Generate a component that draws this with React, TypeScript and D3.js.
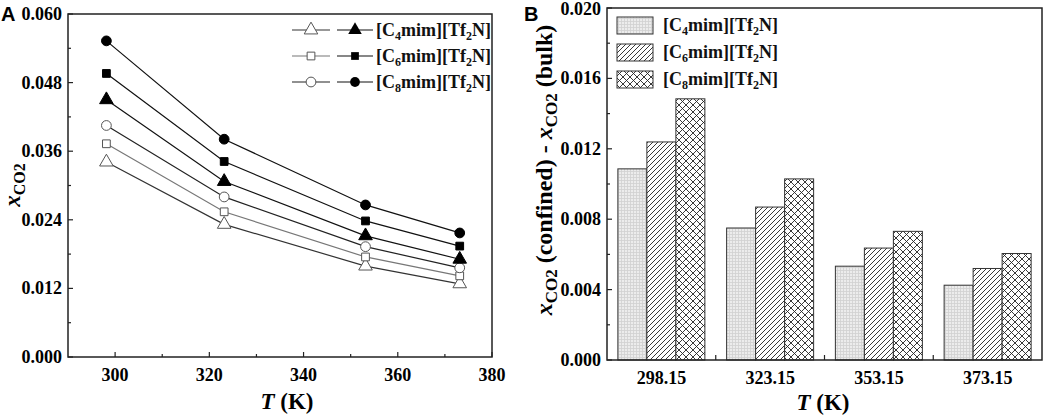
import * as d3 from 'd3';

// Panel A: x_CO2 vs T
const temps = [298.15, 323.15, 353.15, 373.15];
const c4Open = [0.0341, 0.0232, 0.0159, 0.0128];
const c6Open = [0.0373, 0.0254, 0.0175, 0.0142];
const c8Open = [0.0405, 0.028, 0.0193, 0.0156];
const c4Filled = [0.045, 0.0307, 0.0212, 0.0171];
const c6Filled = [0.0496, 0.0342, 0.0238, 0.0194];
const c8Filled = [0.0553, 0.0381, 0.0266, 0.0217];
const yTicksA = [0, 0.012, 0.024, 0.036, 0.048, 0.06];
const xTicksA = [300, 320, 340, 360, 380];

// Panel B: confined - bulk
const tempLabels = ['298.15', '323.15', '353.15', '373.15'];
const diffC4 = [0.01086, 0.0075, 0.00533, 0.00425];
const diffC6 = [0.01239, 0.00869, 0.00636, 0.0052];
const diffC8 = [0.01484, 0.01029, 0.00731, 0.00605];
const yTicksB = [0, 0.004, 0.008, 0.012, 0.016, 0.02];

const ionicLiquids = ['4', '6', '8'];

const FONT = '"Liberation Serif", "Times New Roman", serif';

function ILName({ n, x, y }: { n: string; x: number; y: number }) {
  return (
    <text x={x} y={y} fontFamily={FONT} fontWeight="bold" fontSize={18} fill="#111">
      [C<tspan dy={4} fontSize={12}>{n}</tspan>
      <tspan dy={-4}>mim][Tf</tspan>
      <tspan dy={4} fontSize={12}>2</tspan>
      <tspan dy={-4}>N]</tspan>
    </text>
  );
}

export default function App() {
  // ---------- Panel A ----------
  const xA = d3.scaleLinear().domain([290, 380]).range([68, 492]);
  const yA = d3.scaleLinear().domain([0, 0.06]).range([357, 14]);
  const line = d3.line<number>().x((_, i) => xA(temps[i])).y(d => yA(d));

  const series = [
    { data: c4Open, shape: d3.symbolTriangle, filled: false, stroke: '#333', size: 80 },
    { data: c6Open, shape: d3.symbolSquare, filled: false, stroke: '#777', size: 60 },
    { data: c8Open, shape: d3.symbolCircle, filled: false, stroke: '#222', size: 75 },
    { data: c4Filled, shape: d3.symbolTriangle, filled: true, stroke: '#111', size: 80 },
    { data: c6Filled, shape: d3.symbolSquare, filled: true, stroke: '#111', size: 60 },
    { data: c8Filled, shape: d3.symbolCircle, filled: true, stroke: '#111', size: 75 },
  ];
  const sym = (s: typeof series[number]) => d3.symbol().type(s.shape).size(s.size)() as string;
  const minorYA = d3.range(0.006, 0.06, 0.012);
  const minorXA = d3.range(310, 380, 20);

  // ---------- Panel B ----------
  const xB = d3.scaleBand<string>().domain(tempLabels).range([607, 1042]).paddingInner(0);
  const step = xB.bandwidth();
  const xSub = d3.scaleBand<number>().domain([0, 1, 2]).range([0.1 * step, 0.9 * step]).padding(0);
  const yB = d3.scaleLinear().domain([0, 0.02]).range([360, 8]);
  const barSeries = [diffC4, diffC6, diffC8];
  const patterns = ['url(#pGrid)', 'url(#pDiag)', 'url(#pCross)'];
  const minorYB = d3.range(0.002, 0.02, 0.004);

  return (
    <svg width={1045} height={415} style={{ position: 'absolute', left: 0, top: 0, background: '#fff' }}>
      <defs>
        <pattern id="pGrid" patternUnits="userSpaceOnUse" width={3} height={3}>
          <rect width={3} height={3} fill="#ececec" />
          <path d="M0,0.5H3M0.5,0V3" stroke="#d0d0d0" strokeWidth={0.8} />
        </pattern>
        <pattern id="pDiag" patternUnits="userSpaceOnUse" width={5} height={5}>
          <rect width={5} height={5} fill="#fff" />
          <path d="M-1,6L6,-1M-1,1L1,-1M4,6L6,4" stroke="#222" strokeWidth={0.9} />
        </pattern>
        <pattern id="pCross" patternUnits="userSpaceOnUse" width={7} height={7}>
          <rect width={7} height={7} fill="#fff" />
          <path d="M0,0L7,7M7,0L0,7" stroke="#222" strokeWidth={0.9} />
        </pattern>
      </defs>

      {/* ===== Panel A ===== */}
      <text x={1} y={21} fontFamily="Arial, 'Liberation Sans', sans-serif" fontWeight="bold" fontSize={20}>A</text>
      {series.map((s, k) => (
        <path key={'l' + k} d={line(s.data) as string} fill="none" stroke={s.stroke} strokeWidth={1.2} />
      ))}
      {series.map((s, k) =>
        s.data.map((v, i) => (
          <path key={'m' + k + i} d={sym(s)} transform={`translate(${xA(temps[i])},${yA(v)})`}
            fill={s.filled ? '#000' : '#fff'} stroke={s.filled ? '#000' : '#555'} strokeWidth={1} />
        ))
      )}
      <rect x={68} y={14} width={424} height={343} fill="none" stroke="#222" strokeWidth={1.5} />
      {yTicksA.map(t => (
        <g key={'ya' + t}>
          <line x1={68} x2={73} y1={yA(t)} y2={yA(t)} stroke="#222" strokeWidth={1.2} />
          <text x={62} y={yA(t) + 6} textAnchor="end" fontFamily={FONT} fontWeight="bold" fontSize={18}>{t.toFixed(3)}</text>
        </g>
      ))}
      {minorYA.map(t => (
        <line key={'mya' + t} x1={68} x2={71} y1={yA(t)} y2={yA(t)} stroke="#222" strokeWidth={1.2} />
      ))}
      {xTicksA.map(t => (
        <g key={'xa' + t}>
          <line x1={xA(t)} x2={xA(t)} y1={357} y2={352} stroke="#222" strokeWidth={1.2} />
          <text x={xA(t)} y={381} textAnchor="middle" fontFamily={FONT} fontWeight="bold" fontSize={18}>{t}</text>
        </g>
      ))}
      {minorXA.map(t => (
        <line key={'mxa' + t} x1={xA(t)} x2={xA(t)} y1={357} y2={354} stroke="#222" strokeWidth={1.2} />
      ))}
      <text x={287} y={409} textAnchor="middle" fontFamily={FONT} fontWeight="bold" fontSize={23}>
        <tspan fontStyle="italic">T</tspan> (K)
      </text>
      <text transform="translate(20,185) rotate(-90)" textAnchor="middle" fontFamily={FONT} fontWeight="bold" fontSize={23}>
        <tspan fontStyle="italic">x</tspan>
        <tspan dy={5} fontSize={16}>CO2</tspan>
      </text>

      {/* Legend A */}
      {ionicLiquids.map((n, r) => {
        const y = 30 + r * 26;
        const open = series[r];
        const filled = series[r + 3];
        return (
          <g key={'lga' + n}>
            <line x1={292} x2={330} y1={y} y2={y} stroke={open.stroke} strokeWidth={1.2} />
            <path d={sym(open)} transform={`translate(311,${y})`} fill="#fff" stroke="#555" />
            <line x1={337} x2={373} y1={y} y2={y} stroke="#111" strokeWidth={1.2} />
            <path d={sym(filled)} transform={`translate(355,${y})`} fill="#000" />
            <ILName n={n} x={376} y={y + 6} />
          </g>
        );
      })}

      {/* ===== Panel B ===== */}
      <text x={524} y={21} fontFamily="Arial, 'Liberation Sans', sans-serif" fontWeight="bold" fontSize={20}>B</text>
      {tempLabels.map((c, i) =>
        barSeries.map((s, k) => (
          <rect key={'b' + i + k} x={(xB(c) as number) + (xSub(k) as number)} y={yB(s[i])}
            width={xSub.bandwidth()} height={yB(0) - yB(s[i])}
            fill={patterns[k]} stroke="#333" strokeWidth={1} />
        ))
      )}
      <rect x={607} y={8} width={435} height={352} fill="none" stroke="#222" strokeWidth={1.5} />
      {yTicksB.map(t => (
        <g key={'yb' + t}>
          <line x1={607} x2={612} y1={yB(t)} y2={yB(t)} stroke="#222" strokeWidth={1.2} />
          <text x={601} y={yB(t) + (t === 0.02 ? 7 : 6)} textAnchor="end" fontFamily={FONT} fontWeight="bold" fontSize={18}>{t.toFixed(3)}</text>
        </g>
      ))}
      {minorYB.map(t => (
        <line key={'myb' + t} x1={607} x2={610} y1={yB(t)} y2={yB(t)} stroke="#222" strokeWidth={1.2} />
      ))}
      {tempLabels.map((c, i) => (
        <g key={'xb' + c}>
          {i > 0 && <line x1={xB(c)} x2={xB(c)} y1={360} y2={355} stroke="#222" strokeWidth={1.2} />}
          <text x={(xB(c) as number) + step / 2} y={384} textAnchor="middle" fontFamily={FONT} fontWeight="bold" fontSize={18}>{c}</text>
        </g>
      ))}
      <text x={823} y={410} textAnchor="middle" fontFamily={FONT} fontWeight="bold" fontSize={23}>
        <tspan fontStyle="italic">T</tspan> (K)
      </text>
      <text transform="translate(552,170) rotate(-90)" textAnchor="middle" fontFamily={FONT} fontWeight="bold" fontSize={24}>
        <tspan fontStyle="italic">x</tspan>
        <tspan dy={5} fontSize={17}>CO2</tspan>
        <tspan dy={-5}> (confined) - </tspan>
        <tspan fontStyle="italic">x</tspan>
        <tspan dy={5} fontSize={17}>CO2</tspan>
        <tspan dy={-5}> (bulk)</tspan>
      </text>

      {/* Legend B */}
      {ionicLiquids.map((n, r) => {
        const y = 17 + r * 27;
        return (
          <g key={'lgb' + n}>
            <rect x={617} y={y} width={36} height={17} fill={patterns[r]} stroke="#333" strokeWidth={1} />
            <ILName n={n} x={663} y={y + 14} />
          </g>
        );
      })}
    </svg>
  );
}
